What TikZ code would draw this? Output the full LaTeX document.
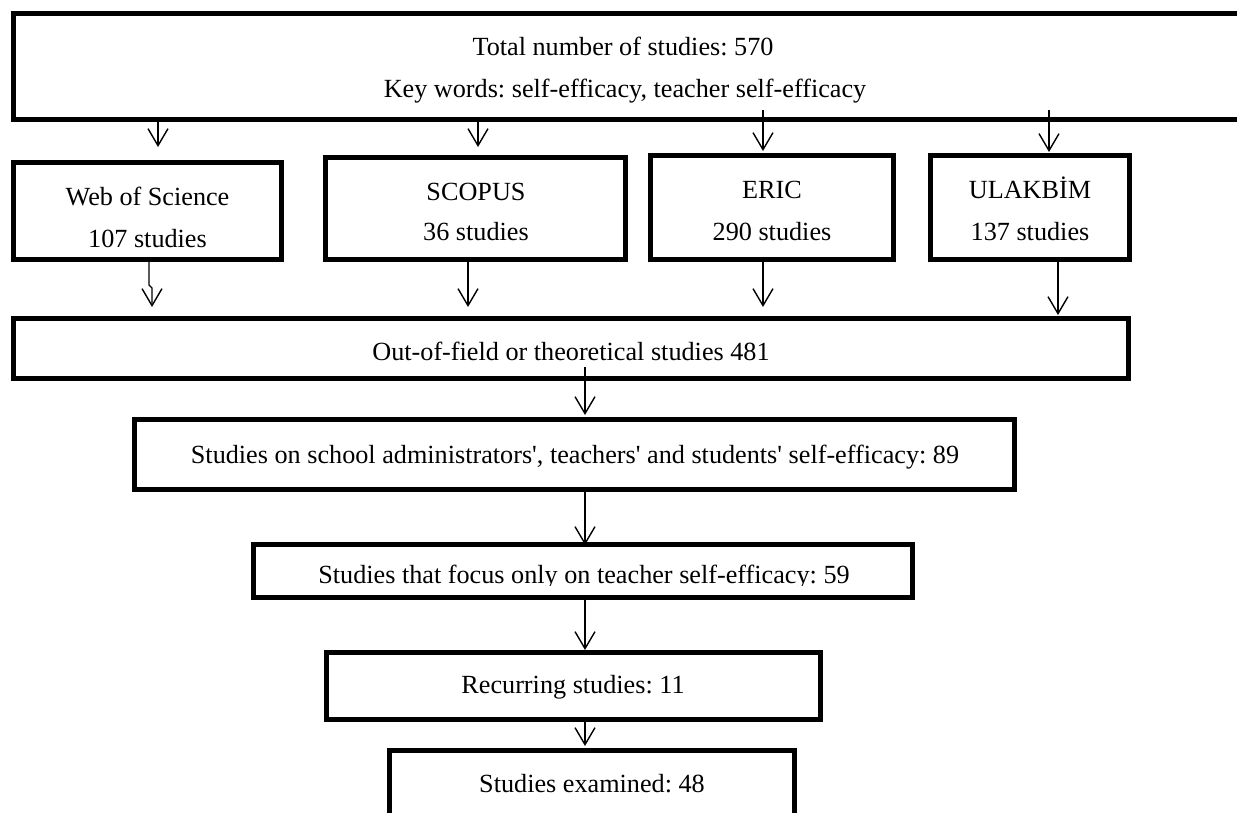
\documentclass[tikz,border=0pt]{standalone}
\usepackage{fontspec}
\setmainfont{Liberation Serif}[Ligatures=TeXOff]
\usetikzlibrary{arrows.meta}
\frenchspacing
\begin{document}
\begin{tikzpicture}[x=1pt,y=-1pt,
  box/.style={draw,line width=5pt,fill=white,inner sep=0pt,rectangle},
  lbl/.style={anchor=base,inner sep=0pt,font=\fontsize{26.2}{30}\selectfont},
  arr/.style={line width=1.4pt,-{Straight Barb[length=17pt,width=20pt]}}]
\useasboundingbox (0,0) rectangle (1237,812);
\clip (0,0) rectangle (1237,812);
% boxes
\node[box,minimum width=1229pt,minimum height=106pt] (top) at (628,66.5) {};
\node[box,minimum width=268pt,minimum height=97pt] (wos) at (147.5,211) {};
\node[box,minimum width=300pt,minimum height=102pt] (scopus) at (475.5,208.5) {};
\node[box,minimum width=243pt,minimum height=104pt] (eric) at (772,207.5) {};
\node[box,minimum width=199pt,minimum height=104pt] (ulak) at (1030,207.5) {};
\node[box,minimum width=1115pt,minimum height=60pt] (out) at (571,348.5) {};
\node[box,minimum width=880pt,minimum height=70pt] (admin) at (574.5,454.5) {};
\node[box,minimum width=659pt,minimum height=53pt] (focus) at (583,571) {};
\node[box,minimum width=494pt,minimum height=67pt] (recur) at (573.5,686) {};
\node[box,minimum width=405pt,minimum height=77pt] (exam) at (592,789) {};
% texts
\node[lbl] (tt1) at (623,55) {Total number of studies: 570};
\node[lbl] (tt2) at (625,97) {Key words: self-efficacy, teacher self-efficacy};
\node[lbl] (wost1) at (147.5,205) {Web of Science};
\node[lbl] (wost2) at (147.5,247) {107 studies};
\node[lbl] (scot1) at (476,200) {SCOPUS};
\node[lbl] (scot2) at (476,240) {36 studies};
\node[lbl] (erit1) at (772,198) {ERIC};
\node[lbl] (erit2) at (772,240) {290 studies};
\node[lbl] (ulat1) at (1030,198) {ULAKBİM};
\node[lbl] (ulat2) at (1030,240) {137 studies};
\node[lbl] (outt) at (571,360) {Out-of-field or theoretical studies 481};
\node[lbl] (admint) at (575,463) {Studies on school administrators', teachers' and students' self-efficacy: 89};
\begin{scope}
\clip (256,547) rectangle (910,585.5);
\node[lbl] (focust) at (584,583) {Studies that focus only on teacher self-efficacy: 59};
\end{scope}
\node[lbl] (recurt) at (573,693) {Recurring studies: 11};
\node[lbl] (examt) at (592,792) {Studies examined: 48};
% arrow points
\coordinate (t1) at (158,147);
\coordinate (t2) at (478,147);
\coordinate (t3s) at (763,110);
\coordinate (t3) at (763,151);
\coordinate (t4s) at (1049,110);
\coordinate (t4) at (1049,152);
\coordinate (w1) at (149,285);
\coordinate (w2) at (152,288);
\coordinate (w3) at (152,307);
\coordinate (s1) at (468,307);
\coordinate (e1) at (763,307);
\coordinate (u1) at (1058,315);
\coordinate (o1) at (585,367);
\coordinate (o2) at (585,415);
\coordinate (c) at (585,0);
% connectors
\draw[arr] (top.south -| t1) -- (t1);
\draw[arr] (top.south -| t2) -- (t2);
\draw[arr] (t3s) -- (t3);
\draw[arr] (t4s) -- (t4);
\draw[arr] (wos.south -| w1) -- (w1) -- (w2) -- (w3);
\draw[arr] (scopus.south -| s1) -- (s1);
\draw[arr] (eric.south -| e1) -- (e1);
\draw[arr] (ulak.south -| u1) -- (u1);
\draw[arr] (o1) -- (o2);
\draw[arr] (admin.south -| c) -- ([yshift=-3pt]focus.north -| c);
\draw[arr] (focus.south -| c) -- (recur.north -| c);
\draw[arr] (recur.south -| c) -- ([yshift=2pt]exam.north -| c);
\end{tikzpicture}
\end{document}
